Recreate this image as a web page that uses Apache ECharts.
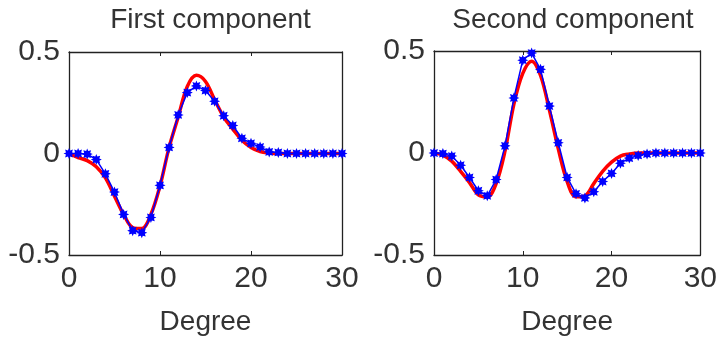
<!DOCTYPE html>
<html>
<head>
<meta charset="utf-8">
<script src="https://cdn.jsdelivr.net/npm/echarts@6/dist/echarts.min.js"></script>
<style>
  html, body { margin: 0; padding: 0; background: #fff; }
  #chart { width: 720px; height: 341px; }
</style>
</head>
<body>
<div id="chart"></div>
<script>
// degree axis, 0..30
const degrees = [0,1,2,3,4,5,6,7,8,9,10,11,12,13,14,15,16,17,18,19,20,21,22,23,24,25,26,27,28,29,30];

// first component
const firstRed  = [0,-0.02,-0.035,-0.065,-0.12,-0.21,-0.30,-0.365,-0.37,-0.30,-0.16,0.03,0.18,0.33,0.385,0.355,0.265,0.18,0.12,0.065,0.03,0.01,0.003,0,0,0,0,0,0,0,0];
const firstBlue = [0,0,-0.003,-0.03,-0.10,-0.19,-0.30,-0.38,-0.39,-0.315,-0.157,0.03,0.19,0.30,0.333,0.31,0.257,0.186,0.138,0.075,0.05,0.032,0.008,0.005,0,0,0,0,0,0,0];

// second component
const secondRed  = [0,-0.01,-0.04,-0.09,-0.145,-0.205,-0.215,-0.15,0.01,0.24,0.39,0.45,0.38,0.21,0.02,-0.14,-0.215,-0.21,-0.15,-0.09,-0.045,-0.015,-0.005,0,0,0,0,0,0,0,0];
const secondBlue = [0,-0.003,-0.015,-0.06,-0.12,-0.185,-0.21,-0.13,0.035,0.27,0.455,0.49,0.41,0.23,0.05,-0.12,-0.2,-0.22,-0.19,-0.14,-0.1,-0.05,-0.025,-0.012,-0.005,0,0,0,0,0,0];

const titles = ['First component', 'Second component'];
const xTitle = 'Degree';

const pairs = (ys) => degrees.map((d, i) => [d, ys[i]]);

// chunky asterisk marker, like matlab '*' at low res
const star = 'path://M20,10L15.5,11.9L17.07,17.07L11.9,15.5L10,20L8.1,15.5L2.93,17.07L4.5,11.9L0,10L4.5,8.1L2.93,2.93L8.1,4.5L10,0L11.9,4.5L17.07,2.93L15.5,8.1Z';

const font = '"Liberation Sans", Arial, sans-serif';
const ink = '#333';

const grids = [
  { left: 69, top: 52, width: 273, height: 212 },
  { left: 434, top: 51, width: 268, height: 213 }
];

const xAxes = [], yAxes = [];
grids.forEach((g, gi) => {
  // bottom + top (mirror ticks)
  ['bottom', 'top'].forEach((pos) => {
    xAxes.push({
      gridIndex: gi, type: 'value', position: pos,
      min: 0, max: 30, interval: 10,
      name: pos === 'bottom' ? xTitle : '',
      nameLocation: 'middle', nameGap: 53,
      nameTextStyle: { fontSize: 28, color: ink, fontFamily: font },
      axisLine: { show: true, onZero: false, lineStyle: { color: '#222', width: 1.3 } },
      axisTick: { show: true, inside: true, length: 4, lineStyle: { color: '#222' } },
      axisLabel: { show: pos === 'bottom', fontSize: 30, color: ink, fontFamily: font, margin: 9 },
      splitLine: { show: false }
    });
  });
  ['left', 'right'].forEach((pos) => {
    yAxes.push({
      gridIndex: gi, type: 'value', position: pos,
      min: -0.5, max: 0.5, interval: 0.5,
      axisLine: { show: true, onZero: false, lineStyle: { color: '#222', width: 1.3 } },
      axisTick: { show: true, inside: true, length: 4, lineStyle: { color: '#222' } },
      axisLabel: { show: pos === 'left', fontSize: 30, color: ink, fontFamily: font, margin: 9 },
      splitLine: { show: false }
    });
  });
});

const redLine = (ys, gi) => ({
  type: 'line', data: pairs(ys), xAxisIndex: gi * 2, yAxisIndex: gi * 2,
  smooth: 0.35, showSymbol: false, symbol: 'none',
  lineStyle: { color: '#ff0000', width: 3.5 }, z: 2, silent: true
});
const blueLine = (ys, gi) => ({
  type: 'line', data: pairs(ys), xAxisIndex: gi * 2, yAxisIndex: gi * 2,
  symbol: star, symbolSize: 11,
  itemStyle: { color: '#0000ff' },
  lineStyle: { color: '#0000ff', width: 1.5 }, z: 3, silent: true
});

const chart = echarts.init(document.getElementById('chart'));
chart.setOption({
  animation: false,
  backgroundColor: '#fff',
  title: titles.map((t, i) => ({
    text: t,
    left: grids[i].left + grids[i].width / 2,
    textAlign: 'center',
    top: 1,
    textStyle: { fontSize: 28, fontWeight: 'normal', color: ink, fontFamily: font }
  })),
  grid: grids,
  xAxis: xAxes,
  yAxis: yAxes,
  series: [
    redLine(firstRed, 0), blueLine(firstBlue, 0),
    redLine(secondRed, 1), blueLine(secondBlue, 1)
  ]
});
</script>
</body>
</html>
